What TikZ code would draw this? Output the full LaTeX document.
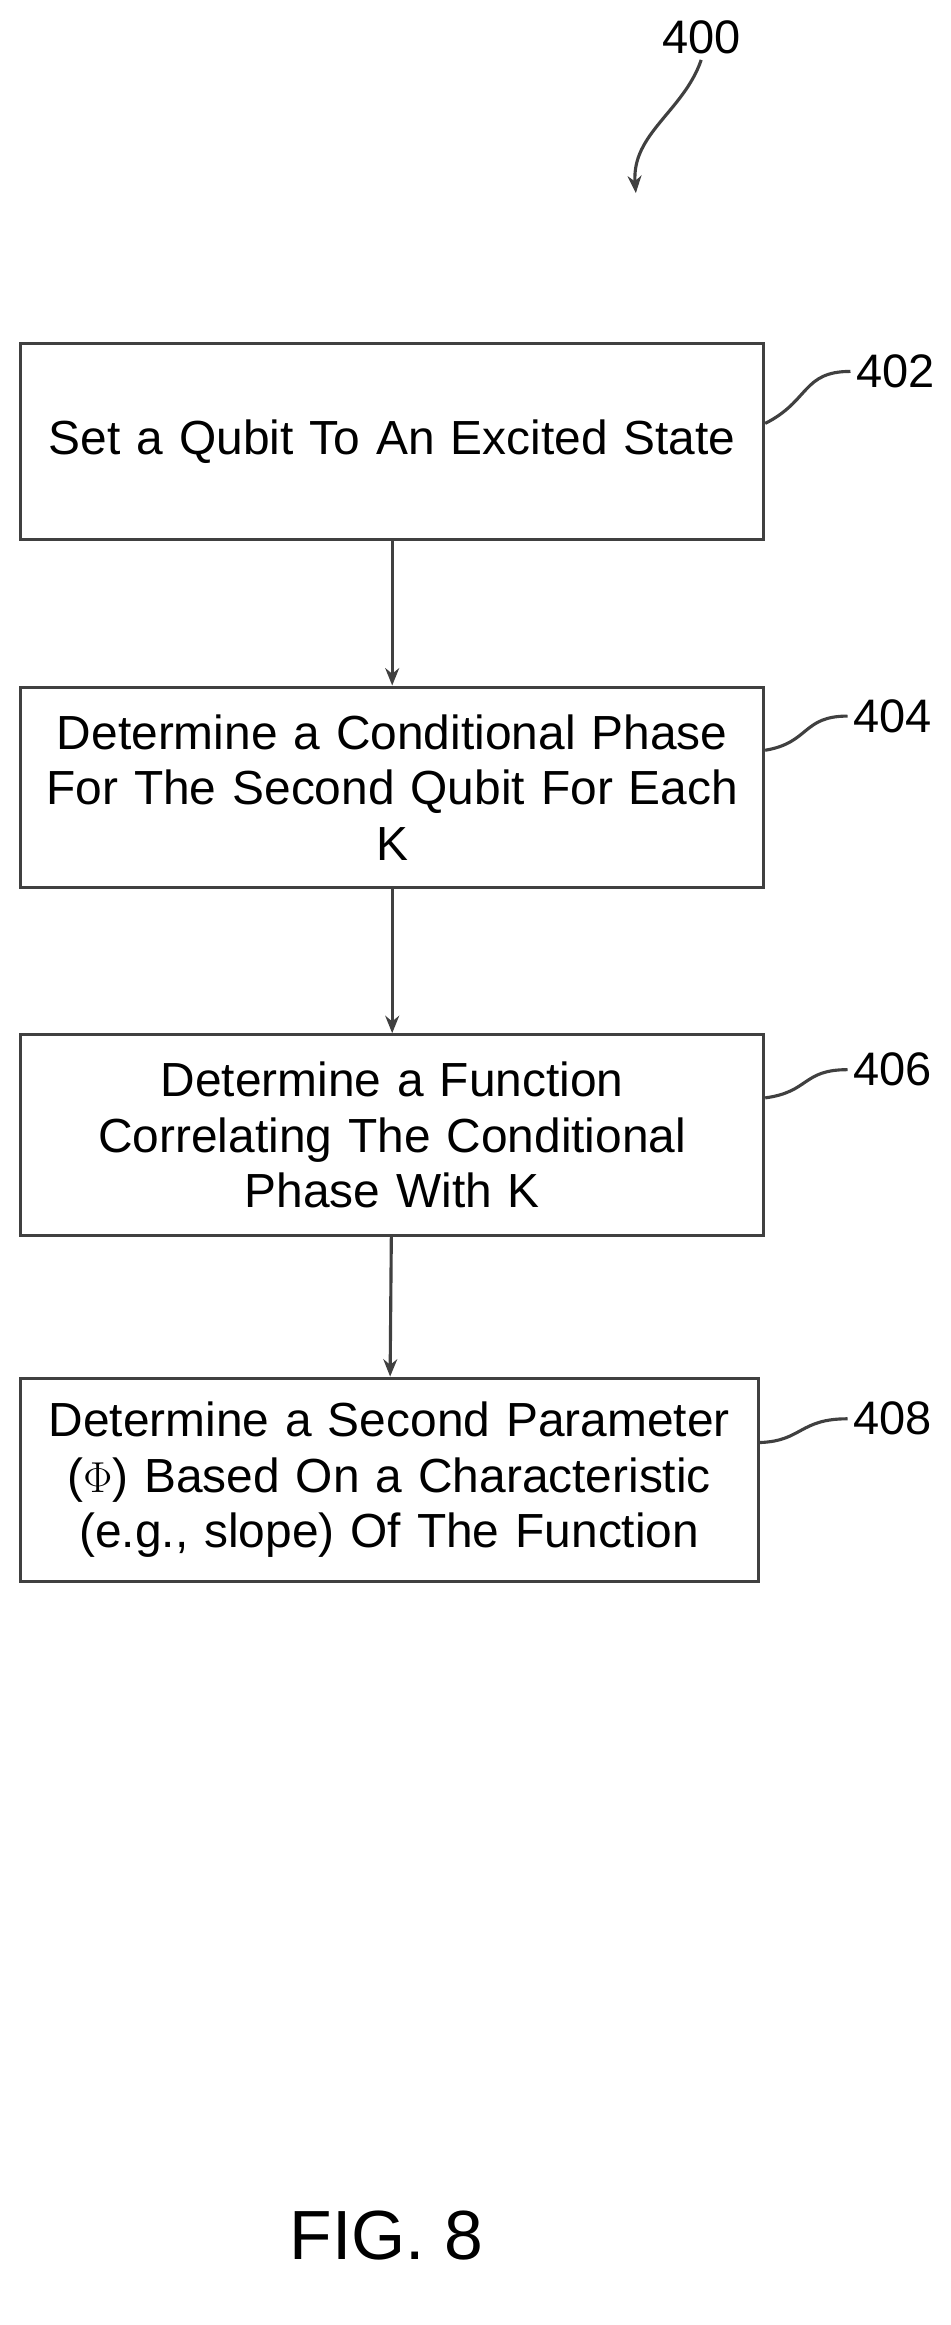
\documentclass[tikz,border=0pt]{standalone}
\usepackage{fontspec}
\setmainfont{Liberation Sans}
\usetikzlibrary{arrows.meta,positioning}
\tikzset{
  >={Stealth[length=10pt,width=8pt]},
  stage/.style={draw=black!75, line width=1.8pt, minimum width=15cm, align=center,
    font=\fontsize{27.5}{32}\selectfont, text width=14.9cm, inner sep=0pt},
  ref/.style={font=\fontsize{27}{30}\selectfont},
  flow/.style={->, line width=1.8pt, draw=black!75},
  lead/.style={line width=1.8pt, draw=black!75},
}
\begin{document}
\begin{tikzpicture}[x=0.03cm, y=-0.03cm]
  \useasboundingbox (0,0) rectangle (640,1565);
  \node [stage, minimum height=3.96cm] (s402) at (264,297) {Set a Qubit To An Excited State};
  \node [stage, minimum height=4.05cm] (s404) at (264,530) {Determine a Conditional Phase\\For The Second Qubit For Each\\K};
  \node [stage, minimum height=4.05cm] (s406) at (264,764) {Determine a Function\\Correlating The Conditional\\Phase With K};
  \node [stage, minimum height=4.1cm, minimum width=14.88cm] (s408) at (262,996) {Determine a Second Parameter\\($\Phi$) Based On a Characteristic\\(e.g., slope) Of The Function};
  \draw [flow] (s402) -- (s404);
  \draw [flow] (s404) -- (s406);
  \draw [flow] (s406) -- (s408);
  % reference numerals
  \node [ref] (n402) at (603,250) {402};
  \node [ref] (n404) at (601,482) {404};
  \node [ref] (n406) at (601,720) {406};
  \node [ref] (n408) at (601,955) {408};
  \draw [lead] (s402.east) ++(0,-12) .. controls (545,270) and (540,250) .. (n402.west);
  \draw [lead] (s404.east) ++(0,-25) .. controls (545,500) and (540,482) .. (n404.west);
  \draw [lead] (s406.east) ++(0,-25) .. controls (545,735) and (540,720) .. (n406.west);
  \draw [lead] (s408.east) ++(0,-25) .. controls (540,970) and (538,955) .. (n408.west);
  \node [ref] (n400) at (472,25) {400};
  \coordinate (tip) at (428,130);
  \draw [flow] (n400.south) .. controls (460,75) and (425,90) .. (tip);
  \node [font=\fontsize{40}{44}\selectfont] (fig) at (260,1505) {FIG. 8};
\end{tikzpicture}
\end{document}
